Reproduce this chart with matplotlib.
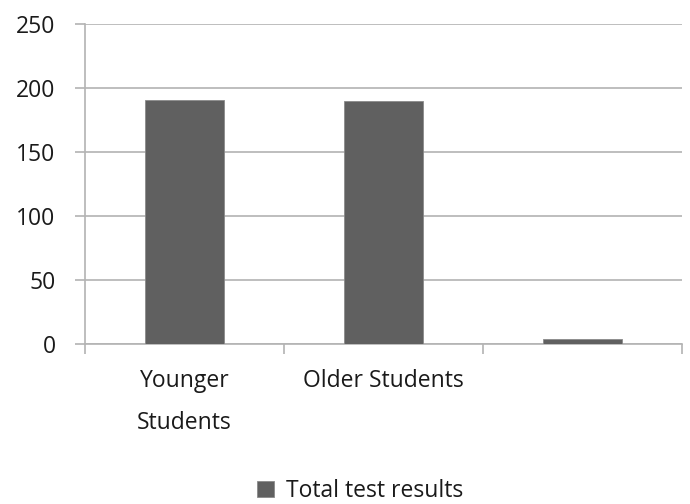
import matplotlib
matplotlib.use("Agg")
import matplotlib.pyplot as plt
from matplotlib.ticker import FixedLocator

categories = ["Younger\nStudents", "Older Students", ""]
totals = [191, 190, 4]
y_ticks = [0, 50, 100, 150, 200, 250]
series_name = "Total test results"

BAR = "#606060"
GRID = "#b3b3b3"
TEXT = "#1a1a1a"
FS = 16.5

plt.rcParams["font.family"] = ["Open Sans", "DejaVu Sans"]

fig = plt.figure(figsize=(6.9, 5.04), dpi=100)
ax = fig.add_axes([85 / 690, 1 - 344 / 504, (682 - 85) / 690, (344 - 24) / 504])

x = list(range(len(categories)))
bars = ax.bar(x, totals, width=0.4, color=BAR, edgecolor="#8a8a8a", linewidth=0.6,
              label=series_name, zorder=3)

ax.set_xlim(-0.5, len(categories) - 0.5)
ax.set_ylim(0, 250)
ax.set_yticks(y_ticks)
ax.yaxis.grid(True, color=GRID, linewidth=1.2, zorder=0)

for side in ("top", "right"):
    ax.spines[side].set_visible(False)
for side in ("left", "bottom"):
    ax.spines[side].set_color(GRID)
    ax.spines[side].set_linewidth(1.2)

ax.tick_params(axis="y", length=7.2, width=1.2, color=GRID, pad=14,
               labelsize=FS, labelcolor=TEXT)

ax.set_xticks(x)
ax.set_xticklabels(categories, linespacing=2.0)
ax.xaxis.set_minor_locator(FixedLocator([i - 0.5 for i in range(len(categories) + 1)]))
ax.tick_params(axis="x", which="major", length=0, pad=18, labelsize=FS, labelcolor=TEXT)
ax.tick_params(axis="x", which="minor", length=7.2, width=1.2, color=GRID)

fig.legend(handles=[bars], labels=[series_name], loc="center",
           bbox_to_anchor=(360 / 690, 1 - 491 / 504), frameon=False,
           fontsize=FS, handlelength=0.75, handleheight=0.75, handletextpad=0.5,
           labelcolor=TEXT)

fig.savefig("out.png", dpi=100, facecolor="white")
